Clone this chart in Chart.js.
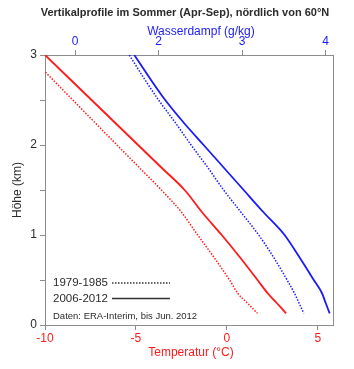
<!DOCTYPE html>
<html>
<head>
<meta charset="utf-8">
<script src="https://cdn.jsdelivr.net/npm/chart.js@4"></script>
<style>
  html, body { margin: 0; padding: 0; background: #fff; }
  #c { display: block; }
</style>
</head>
<body>
<canvas id="c" width="354" height="369"></canvas>
<script>
// heights (km) shared by every profile
var heights = [3.0, 2.75, 2.5, 2.25, 2.0, 1.75, 1.5, 1.25, 1.0, 0.75, 0.5, 0.35, 0.25, 0.13];
// temperature (°C)
var temp7985 = [-10.9, -9.69, -8.47, -7.26, -6.04, -4.82, -3.6, -2.48, -1.6, -0.7, 0.15, 0.61, 1.1, 1.68];
var temp0612 = [-10, -8.72, -7.44, -6.16, -4.88, -3.6, -2.32, -1.35, -0.28, 0.73, 1.69, 2.26, 2.72, 3.26];
// water vapour (g/kg)
var wv7985 = [1.65, 1.82, 2.0, 2.2, 2.39, 2.59, 2.78, 2.99, 3.2, 3.38, 3.54, 3.63, 3.68, 3.74];
var wv0612 = [1.71, 1.89, 2.08, 2.3, 2.54, 2.78, 3.02, 3.26, 3.51, 3.69, 3.86, 3.96, 4.0, 4.05];

var tempTicks = [-10, -5, 0, 5];
var wvTicks = [1, 2, 3, 4];
var wvTickLabels = ['0', '2', '3', '4'];
var heightTicks = [0, 0.5, 1, 1.5, 2, 2.5, 3];

var legendLabels = ['1979-1985', '2006-2012'];
var sourceNote = 'Daten: ERA-Interim, bis Jun. 2012';

var red = '#ff1a1a';
var blue = '#1a1aff';
var axisGrey = '#8c8c8c';
var textGrey = '#2b2b2b';
var fontFam = '"Liberation Sans", Arial, sans-serif';

function pts(xs) {
    return xs.map(function (x, i) { return { x: x, y: heights[i] }; });
}

function fixTicks(vals) {
    return function (scale) {
        scale.ticks = vals.map(function (v) { return { value: v }; });
    };
}

function fixSize(prop, size) {
    return function (scale) { scale[prop] = size; };
}

const extraText = {
    id: 'extraText',
    afterDraw: function (chart) {
        var ctx = chart.ctx;
        ctx.save();
        ctx.textAlign = 'center';
        ctx.textBaseline = 'middle';
        ctx.fillStyle = textGrey;
        ctx.font = 'bold 11px ' + fontFam;
        ctx.fillText('Vertikalprofile im Sommer (Apr-Sep), nördlich von 60°N', 185, 13);

        ctx.font = '12px ' + fontFam;
        ctx.fillStyle = blue;
        ctx.fillText('Wasserdampf (g/kg)', 201, 32);
        ctx.fillStyle = red;
        ctx.fillText('Temperatur (°C)', 191, 353);

        ctx.save();
        ctx.translate(18, 190);
        ctx.rotate(-Math.PI / 2);
        ctx.fillStyle = textGrey;
        ctx.fillText('Höhe (km)', 0, 0);
        ctx.restore();

        // legend
        ctx.textAlign = 'left';
        ctx.fillStyle = textGrey;
        ctx.font = '11.5px ' + fontFam;
        ctx.fillText(legendLabels[0], 53, 283);
        ctx.fillText(legendLabels[1], 53, 299);
        ctx.strokeStyle = '#333';
        ctx.lineWidth = 1.3;
        ctx.setLineDash([1.5, 1.5]);
        ctx.beginPath(); ctx.moveTo(112, 283); ctx.lineTo(170, 283); ctx.stroke();
        ctx.setLineDash([]);
        ctx.lineWidth = 1.6;
        ctx.beginPath(); ctx.moveTo(112, 298.5); ctx.lineTo(170, 298.5); ctx.stroke();
        ctx.font = '9.5px ' + fontFam;
        ctx.fillText(sourceNote, 53, 316.5);
        ctx.restore();
    }
};

var axisGrid = { drawOnChartArea: false, drawTicks: true, tickLength: 5, color: axisGrey, lineWidth: 1 };
var axisBorder = { display: true, color: axisGrey, width: 1 };

function profile(label, values, axis, color, dotted) {
    return {
        label: label, data: pts(values), xAxisID: axis, yAxisID: 'y',
        showLine: true, borderColor: color, borderWidth: dotted ? 1.5 : 1.8,
        borderDash: dotted ? [1.5, 1.5] : [], pointRadius: 0,
        cubicInterpolationMode: 'monotone'
    };
}

new Chart(document.getElementById('c'), {
    type: 'scatter',
    data: {
        datasets: [
            profile(legendLabels[0] + ' T', temp7985, 'x', red, true),
            profile(legendLabels[1] + ' T', temp0612, 'x', red, false),
            profile(legendLabels[0] + ' q', wv7985, 'x2', blue, true),
            profile(legendLabels[1] + ' q', wv0612, 'x2', blue, false)
        ]
    },
    options: {
        responsive: false,
        animation: false,
        layout: { padding: 0 },
        plugins: { legend: { display: false }, title: { display: false }, tooltip: { enabled: false } },
        scales: {
            x: {
                type: 'linear', position: 'bottom', min: -10, max: 5.84,
                afterBuildTicks: fixTicks(tempTicks),
                afterFit: fixSize('height', 44),
                grid: axisGrid, border: axisBorder,
                ticks: { color: red, padding: 1, font: { size: 12, family: fontFam }, maxRotation: 0, autoSkip: false }
            },
            x2: {
                type: 'linear', position: 'top', min: 0.64, max: 4.09,
                afterBuildTicks: fixTicks(wvTicks),
                afterFit: fixSize('height', 55),
                grid: axisGrid, border: axisBorder,
                ticks: { color: blue, padding: 1, font: { size: 12, family: fontFam }, maxRotation: 0, autoSkip: false,
                         callback: function (v, i) { return wvTickLabels[i]; } }
            },
            y: {
                type: 'linear', position: 'left', min: 0, max: 3,
                afterBuildTicks: fixTicks(heightTicks),
                afterFit: fixSize('width', 45),
                grid: axisGrid, border: axisBorder,
                ticks: { color: textGrey, padding: 3, font: { size: 12, family: fontFam }, autoSkip: false,
                         callback: function (v) { return v % 1 === 0 ? String(v) : ''; } }
            },
            y2: {
                type: 'linear', position: 'right', min: 0, max: 3,
                afterFit: fixSize('width', 21),
                grid: { display: false }, border: axisBorder,
                ticks: { display: false }
            }
        }
    },
    plugins: [extraText]
});
</script>
</body>
</html>
